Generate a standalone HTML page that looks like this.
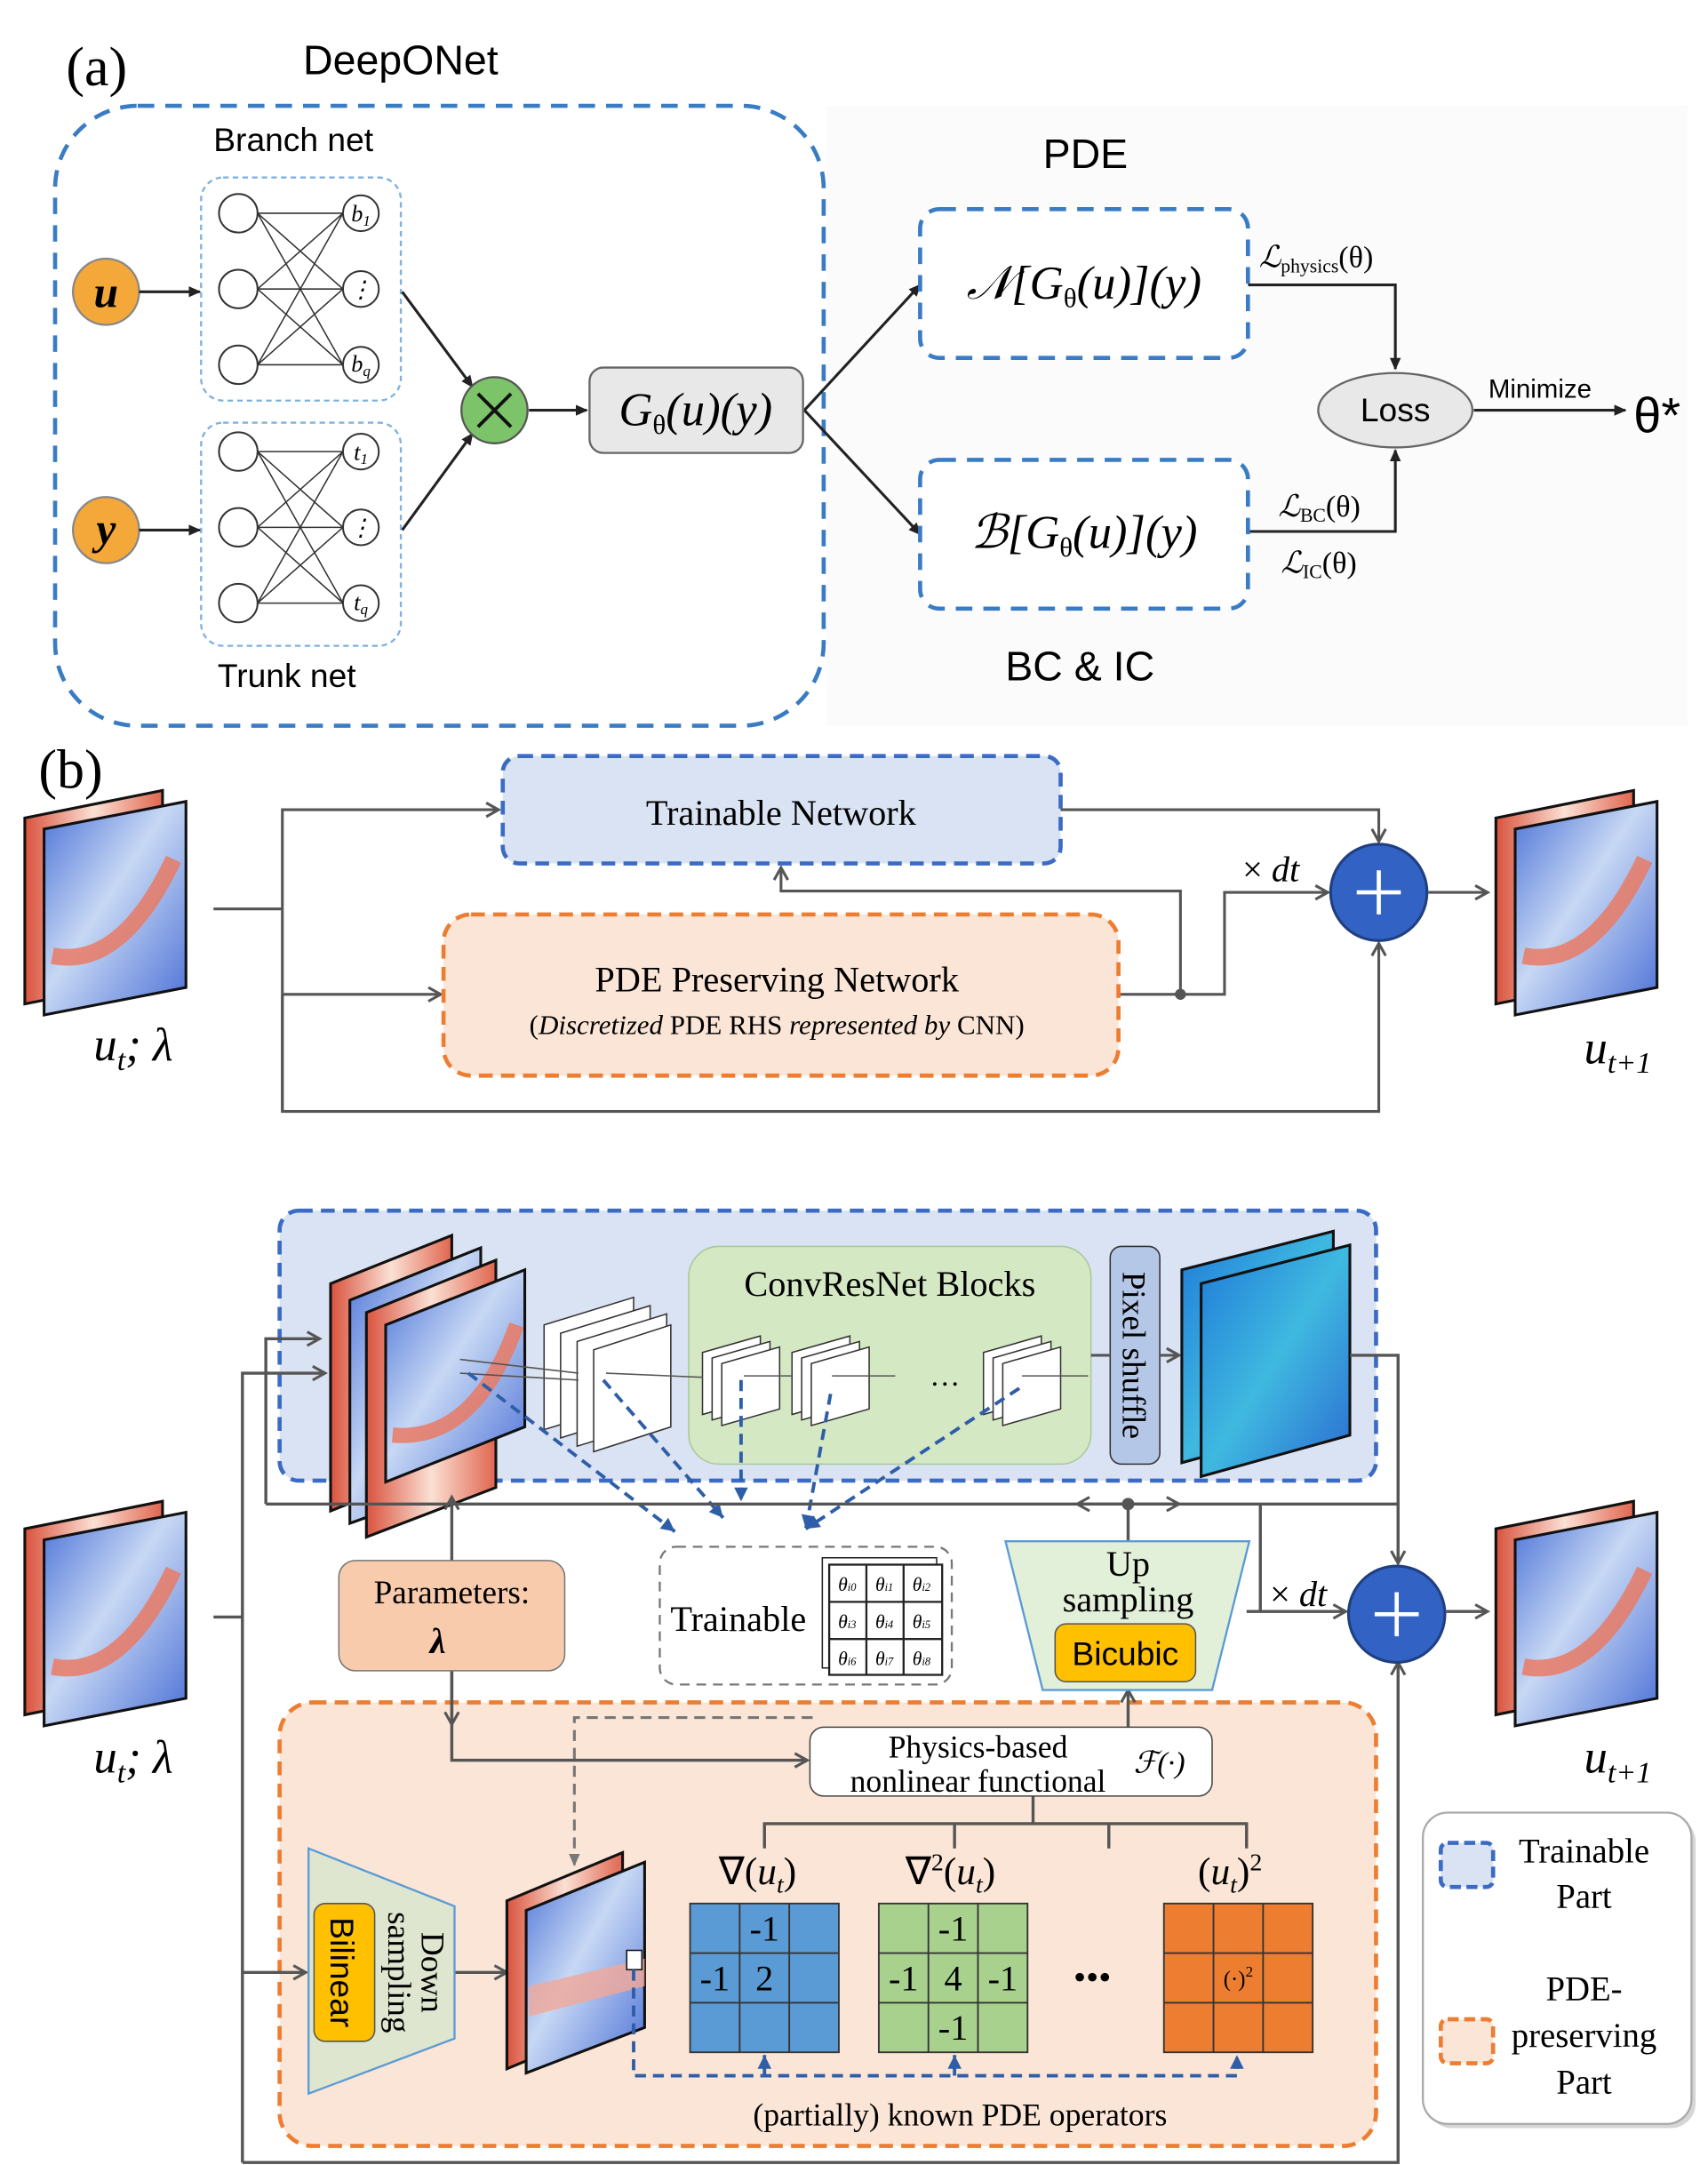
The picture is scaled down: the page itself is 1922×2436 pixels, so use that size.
<!DOCTYPE html>
<html><head><meta charset="utf-8"><style>
html,body{margin:0;padding:0;background:#fff}
svg{display:block}
.s{font-family:"Liberation Sans",sans-serif}
.r{font-family:"Liberation Serif",serif}
</style></head><body>
<svg width="1922" height="2436" viewBox="0 0 1240 1568" xmlns="http://www.w3.org/2000/svg">
<defs>
<linearGradient id="red" x1="0" y1="0" x2="1" y2="0"><stop offset="0" stop-color="#d9533e"/><stop offset=".5" stop-color="#fbe0d4"/><stop offset="1" stop-color="#e0664f"/></linearGradient>
<linearGradient id="blu" x1="0" y1="0" x2="1" y2="1"><stop offset="0" stop-color="#4b72d8"/><stop offset=".45" stop-color="#c7d8f4"/><stop offset="1" stop-color="#4a6fd6"/></linearGradient>
<linearGradient id="teal" x1="0" y1="0" x2="1" y2="1"><stop offset="0" stop-color="#1f7ad8"/><stop offset=".5" stop-color="#3fb9e0"/><stop offset="1" stop-color="#2a6ad0"/></linearGradient>
<marker id="a" markerWidth="10" markerHeight="10" refX="8" refY="5" orient="auto" markerUnits="userSpaceOnUse"><path d="M0,1 L9,5 L0,9 z" fill="#222"/></marker>
<marker id="g" markerWidth="12" markerHeight="12" refX="10" refY="6" orient="auto" markerUnits="userSpaceOnUse"><path d="M1,1 L10,6 L1,11" fill="none" stroke="#555" stroke-width="2"/></marker>
<marker id="b" markerWidth="12" markerHeight="12" refX="10" refY="6" orient="auto" markerUnits="userSpaceOnUse"><path d="M0,1 L10,6 L0,11 z" fill="#2f5ea8"/></marker>
<marker id="gd" markerWidth="10" markerHeight="10" refX="8" refY="5" orient="auto" markerUnits="userSpaceOnUse"><path d="M0,1 L9,5 L0,9 z" fill="#777"/></marker>
<g id="fld">
<polygon points="0,20 100,0 100,135 0,155" fill="url(#red)" stroke="#111" stroke-width="2"/>
<polygon points="14,28 117,8 117,143 14,163" fill="url(#blu)" stroke="#111" stroke-width="2"/>
<path d="M20,120 Q70,130 108,50" fill="none" stroke="#e97a64" stroke-width="12" opacity=".85"/>
</g>
</defs>

<!-- (a) -->
<rect x="600" y="75" width="625" height="450" fill="#fbfbfb"/>
<text x="48" y="60" class="r" font-size="40">(a)</text>
<text x="220" y="52" class="s" font-size="30">DeepONet</text>
<rect x="40" y="75" width="558" height="450" rx="60" fill="none" stroke="#3a7cc4" stroke-width="3" stroke-dasharray="12,8"/>
<text x="155" y="108" class="s" font-size="24">Branch net</text>
<text x="158" y="497" class="s" font-size="24">Trunk net</text>
<rect x="146" y="127" width="145" height="162" rx="16" fill="none" stroke="#7fb0e0" stroke-width="1.5" stroke-dasharray="4,3"/>
<rect x="146" y="305" width="145" height="162" rx="16" fill="none" stroke="#7fb0e0" stroke-width="1.5" stroke-dasharray="4,3"/>
<g stroke="#333" stroke-width="1">
<path d="M187,153 L249,153 M187,153 L249,208 M187,153 L249,263 M187,208 L249,153 M187,208 L249,208 M187,208 L249,263 M187,263 L249,153 M187,263 L249,208 M187,263 L249,263"/>
<path d="M187,326 L249,326 M187,326 L249,381 M187,326 L249,436 M187,381 L249,326 M187,381 L249,381 M187,381 L249,436 M187,436 L249,326 M187,436 L249,381 M187,436 L249,436"/>
</g>
<g fill="#fff" stroke="#333" stroke-width="1.3">
<circle cx="173" cy="153" r="14"/><circle cx="173" cy="208" r="14"/><circle cx="173" cy="263" r="14"/>
<circle cx="173" cy="326" r="14"/><circle cx="173" cy="381" r="14"/><circle cx="173" cy="436" r="14"/>
<circle cx="262" cy="153" r="13"/><circle cx="262" cy="208" r="13"/><circle cx="262" cy="263" r="13"/>
<circle cx="262" cy="326" r="13"/><circle cx="262" cy="381" r="13"/><circle cx="262" cy="436" r="13"/>
</g>
<g class="r" font-style="italic" font-size="17" text-anchor="middle">
<text x="262" y="159">b<tspan font-size="11" dy="3">1</tspan></text><text x="262" y="214">⋮</text><text x="262" y="268">b<tspan font-size="11" dy="3">q</tspan></text>
<text x="262" y="332">t<tspan font-size="11" dy="3">1</tspan></text><text x="262" y="387">⋮</text><text x="262" y="441">t<tspan font-size="11" dy="3">q</tspan></text>
</g>
<circle cx="77" cy="210" r="24" fill="#f5a83a" stroke="#888" stroke-width="1.5"/>
<text x="77" y="221" class="r" font-style="italic" font-weight="bold" font-size="32" text-anchor="middle">u</text>
<circle cx="77" cy="383" r="24" fill="#f5a83a" stroke="#888" stroke-width="1.5"/>
<text x="77" y="393" class="r" font-style="italic" font-weight="bold" font-size="32" text-anchor="middle">y</text>
<g stroke="#222" stroke-width="2" fill="none" marker-end="url(#a)">
<line x1="101" y1="210" x2="145" y2="210"/><line x1="101" y1="383" x2="145" y2="383"/>
<line x1="292" y1="210" x2="343" y2="279"/><line x1="292" y1="383" x2="343" y2="313"/>
<line x1="384" y1="296" x2="426" y2="296"/>
<line x1="584" y1="296" x2="668" y2="205"/><line x1="584" y1="296" x2="668" y2="386"/>
<polyline points="906,205 1013,205 1013,266"/><polyline points="906,384 1013,384 1013,325"/>
<line x1="1070" y1="296" x2="1180" y2="296"/>
</g>
<circle cx="359" cy="296" r="24" fill="#7cc36a" stroke="#555" stroke-width="1.5"/>
<path d="M347,284 L371,308 M371,284 L347,308" stroke="#111" stroke-width="2.5"/>
<rect x="428" y="265" width="155" height="62" rx="10" fill="#e8e8e8" stroke="#666" stroke-width="1.5"/>
<text x="505" y="307" class="r" font-style="italic" font-size="34" text-anchor="middle">G<tspan font-size="20" dy="6" font-style="normal">θ</tspan><tspan dy="-6">(u)(y)</tspan></text>
<text x="788" y="120" class="s" font-size="30" text-anchor="middle">PDE</text>
<rect x="668" y="150" width="238" height="108" rx="14" fill="#fff" stroke="#3a7cc4" stroke-width="3" stroke-dasharray="12,8"/>
<rect x="668" y="332" width="238" height="108" rx="14" fill="#fff" stroke="#3a7cc4" stroke-width="3" stroke-dasharray="12,8"/>
<text x="787" y="215" class="r" font-style="italic" font-size="34" text-anchor="middle">𝒩[G<tspan font-size="20" dy="6" font-style="normal">θ</tspan><tspan dy="-6">(u)](y)</tspan></text>
<text x="787" y="396" class="r" font-style="italic" font-size="34" text-anchor="middle">ℬ[G<tspan font-size="20" dy="6" font-style="normal">θ</tspan><tspan dy="-6">(u)](y)</tspan></text>
<text x="784" y="492" class="s" font-size="30" text-anchor="middle">BC &amp; IC</text>
<text x="914" y="192" class="r" font-size="22" font-style="italic">ℒ<tspan font-size="14" dy="4" font-style="normal">physics</tspan><tspan dy="-4" font-style="normal">(θ)</tspan></text>
<text x="928" y="373" class="r" font-size="22" font-style="italic">ℒ<tspan font-size="14" dy="4" font-style="normal">BC</tspan><tspan dy="-4" font-style="normal">(θ)</tspan></text>
<text x="930" y="414" class="r" font-size="22" font-style="italic">ℒ<tspan font-size="14" dy="4" font-style="normal">IC</tspan><tspan dy="-4" font-style="normal">(θ)</tspan></text>
<ellipse cx="1013" cy="296" rx="56" ry="27" fill="#e8e8e8" stroke="#666" stroke-width="1.5"/>
<text x="1013" y="304" class="s" font-size="24" text-anchor="middle">Loss</text>
<text x="1118" y="287" class="s" font-size="19" text-anchor="middle">Minimize</text>
<text x="1186" y="312" class="s" font-size="36">θ*</text>

<!-- (b) top -->
<text x="28" y="570" class="r" font-size="40">(b)</text>
<use href="#fld" x="18" y="572"/>
<use href="#fld" x="1086" y="572"/>
<text x="68" y="768" class="r" font-style="italic" font-size="34">u<tspan font-size="22" dy="7">t</tspan><tspan dy="-7">; λ⃗</tspan></text>
<text x="1150" y="770" class="r" font-style="italic" font-size="34">u<tspan font-size="22" dy="7">t+1</tspan></text>
<g stroke="#555" stroke-width="2" fill="none">
<polyline points="155,658 205,658"/>
<polyline points="205,805 205,586 362,586" marker-end="url(#g)"/>
<polyline points="205,720 320,720" marker-end="url(#g)"/>
<polyline points="205,720 205,805 1001,805 1001,683" marker-end="url(#g)"/>
<polyline points="770,586 1001,586 1001,609" marker-end="url(#g)"/>
<polyline points="813,720 889,720 889,646 964,646" marker-end="url(#g)"/>
<polyline points="857,720 857,645 567,645 567,628" marker-end="url(#g)"/>
<line x1="1037" y1="646" x2="1080" y2="646" marker-end="url(#g)"/>
</g>
<circle cx="857" cy="720" r="4" fill="#555"/>
<rect x="365" y="547" width="405" height="78" rx="12" fill="#dae3f3" stroke="#3b6bc4" stroke-width="3" stroke-dasharray="10,6"/>
<text x="567" y="597" class="r" font-size="26" text-anchor="middle">Trainable Network</text>
<rect x="322" y="662" width="490" height="117" rx="20" fill="#fbe5d6" stroke="#ed7d31" stroke-width="3" stroke-dasharray="10,6"/>
<text x="564" y="718" class="r" font-size="26" text-anchor="middle">PDE Preserving Network</text>
<text x="564" y="749" class="r" font-size="20" text-anchor="middle">(<tspan font-style="italic">Discretized</tspan> PDE RHS <tspan font-style="italic">represented by</tspan> CNN)</text>
<text x="902" y="638" class="r" font-size="26">× <tspan font-style="italic">dt</tspan></text>
<circle cx="1001" cy="646" r="35" fill="#3162c4" stroke="#1f3f80" stroke-width="2"/>
<path d="M985,646 H1017 M1001,630 V662" stroke="#fff" stroke-width="3"/>

<!-- bottom -->
<rect x="203" y="877" width="796" height="196" rx="14" fill="#dae3f3" stroke="#3b6bc4" stroke-width="3" stroke-dasharray="10,6"/>
<rect x="203" y="1234" width="796" height="322" rx="24" fill="#fbe5d6" stroke="#ed7d31" stroke-width="3" stroke-dasharray="10,6"/>
<rect x="500" y="903" width="292" height="158" rx="22" fill="#d5e8c4" stroke="#aac89a"/>
<text x="646" y="939" class="r" font-size="26" text-anchor="middle">ConvResNet Blocks</text>
<g stroke="#111" stroke-width="2">
<polygon points="240,930 328,895 328,1060 240,1095" fill="url(#red)"/>
<polygon points="254,942 349,904 349,1070 254,1104" fill="url(#blu)"/>
<polygon points="266,951 360,913 360,1078 266,1114" fill="url(#red)"/>
<polygon points="280,960 381,920 381,1034 280,1074" fill="url(#blu)"/>
</g>
<path d="M285,1040 Q345,1045 375,960" fill="none" stroke="#e97a64" stroke-width="11" opacity=".85"/>
<g fill="#fff" stroke="#333" stroke-width="1">
<polygon points="395,960 460,940 460,1016 395,1036"/><polygon points="407,966 472,946 472,1022 407,1042"/><polygon points="419,972 484,952 484,1028 419,1048"/><polygon points="431,978 487,960 487,1034 431,1052"/>
<polygon points="510,980 552,968 552,1013 510,1025"/><polygon points="517,984 559,972 559,1017 517,1029"/><polygon points="524,988 566,976 566,1021 524,1033"/>
<polygon points="575,980 617,968 617,1013 575,1025"/><polygon points="582,984 624,972 624,1017 582,1029"/><polygon points="589,988 631,976 631,1021 589,1033"/>
<polygon points="714,980 756,968 756,1013 714,1025"/><polygon points="721,984 763,972 763,1017 721,1029"/><polygon points="728,988 770,976 770,1021 728,1033"/>
</g>
<g stroke="#555" stroke-width="1" fill="none"><path d="M334,985 L420,995 M334,995 L420,1000 M440,995 L510,998 M540,997 L575,997 M604,997 L650,997 M742,997 L790,997"/></g>
<text x="686" y="1004" class="r" font-size="22" text-anchor="middle">…</text>
<rect x="806" y="903" width="36" height="158" rx="8" fill="#b4c7e7" stroke="#333"/>
<text transform="translate(815,982) rotate(90)" class="r" font-size="24" text-anchor="middle">Pixel shuffle</text>
<line x1="792" y1="982" x2="806" y2="982" stroke="#555" stroke-width="2"/>
<line x1="842" y1="982" x2="856" y2="982" stroke="#555" stroke-width="2" marker-end="url(#g)"/>
<polygon points="858,920 968,892 968,1030 858,1060" fill="url(#teal)" stroke="#111" stroke-width="2"/>
<polygon points="872,930 980,902 980,1040 872,1070" fill="url(#teal)" stroke="#111" stroke-width="2"/>
<g stroke="#2f5ea8" stroke-width="2.5" stroke-dasharray="8,5" fill="none" marker-end="url(#b)">
<line x1="340" y1="995" x2="490" y2="1110"/><line x1="438" y1="1000" x2="525" y2="1100"/>
<line x1="538" y1="1000" x2="538" y2="1088"/><line x1="603" y1="1010" x2="585" y2="1108"/><line x1="740" y1="1006" x2="585" y2="1108"/>
</g>
<g stroke="#555" stroke-width="2.2" fill="none">
<line x1="155" y1="1172" x2="176" y2="1172"/>
<polyline points="176,1568 176,995 236,995" marker-end="url(#g)"/>
<polyline points="193,1090 193,970 232,970" marker-end="url(#g)"/>
<polyline points="176,1430 222,1430" marker-end="url(#g)"/>
<polyline points="193,1090 1015,1090 1015,1133" marker-end="url(#g)"/>
<polyline points="980,982 1015,982 1015,1090"/>
<polyline points="905,1168 915,1168 915,1090"/>
<polyline points="915,1168 977,1168" marker-end="url(#g)"/>
<line x1="1050" y1="1168" x2="1080" y2="1168" marker-end="url(#g)"/>
<polyline points="176,1568 1015,1568 1015,1205" marker-end="url(#g)"/>
<line x1="819" y1="1117" x2="819" y2="1090"/>
<line x1="819" y1="1090" x2="782" y2="1090" marker-end="url(#g)"/><line x1="819" y1="1090" x2="856" y2="1090" marker-end="url(#g)"/>
<line x1="819" y1="1252" x2="819" y2="1225" marker-end="url(#g)"/>
<line x1="328" y1="1131" x2="328" y2="1085" marker-end="url(#g)"/>
<polyline points="328,1211 328,1276 586,1276" marker-end="url(#g)"/>
<line x1="328" y1="1211" x2="328" y2="1250" marker-end="url(#g)"/>
<line x1="330" y1="1430" x2="368" y2="1430" marker-end="url(#g)"/>
<polyline points="750,1302 750,1322"/>
<polyline points="555,1340 555,1322 905,1322 905,1340"/>
<line x1="693" y1="1322" x2="693" y2="1340"/><line x1="805" y1="1322" x2="805" y2="1340"/>
</g>
<circle cx="819" cy="1090" r="4.5" fill="#555"/>
<polyline points="590,1245 417,1245 417,1352" fill="none" stroke="#777" stroke-width="2" stroke-dasharray="8,5" marker-end="url(#gd)"/>
<rect x="479" y="1121" width="212" height="100" rx="12" fill="#fff" stroke="#777" stroke-width="1.5" stroke-dasharray="7,5"/>
<text x="536" y="1182" class="r" font-size="26" text-anchor="middle">Trainable</text>
<rect x="597" y="1129" width="83" height="80" fill="#fff" stroke="#222"/>
<rect x="602" y="1134" width="82" height="80" fill="#fff" stroke="#222" stroke-width="1.5"/>
<path d="M629,1134 V1214 M656,1134 V1214 M602,1161 H684 M602,1188 H684" stroke="#222" stroke-width="1.5"/>
<g class="r" font-style="italic" font-size="14" text-anchor="middle">
<text x="615" y="1153">θ<tspan font-size="8">i0</tspan></text><text x="642" y="1153">θ<tspan font-size="8">i1</tspan></text><text x="669" y="1153">θ<tspan font-size="8">i2</tspan></text>
<text x="615" y="1180">θ<tspan font-size="8">i3</tspan></text><text x="642" y="1180">θ<tspan font-size="8">i4</tspan></text><text x="669" y="1180">θ<tspan font-size="8">i5</tspan></text>
<text x="615" y="1207">θ<tspan font-size="8">i6</tspan></text><text x="642" y="1207">θ<tspan font-size="8">i7</tspan></text><text x="669" y="1207">θ<tspan font-size="8">i8</tspan></text>
</g>
<rect x="246" y="1131" width="164" height="80" rx="12" fill="#f8cbad" stroke="#777"/>
<text x="328" y="1162" class="r" font-size="24" text-anchor="middle">Parameters:</text>
<text x="328" y="1198" class="r" font-size="26" font-style="italic" font-weight="bold" text-anchor="middle">λ⃗</text>
<polygon points="730,1117 907,1117 880,1225 757,1225" fill="#e2efd9" stroke="#5b9bd5" stroke-width="1.5"/>
<text x="819" y="1142" class="r" font-size="26" text-anchor="middle">Up</text>
<text x="819" y="1168" class="r" font-size="26" text-anchor="middle">sampling</text>
<rect x="766" y="1177" width="102" height="42" rx="8" fill="#ffc000" stroke="#555"/>
<text x="817" y="1207" class="s" font-size="24" text-anchor="middle">Bicubic</text>
<text x="922" y="1164" class="r" font-size="26">× <tspan font-style="italic">dt</tspan></text>
<circle cx="1014" cy="1170" r="35" fill="#3162c4" stroke="#1f3f80" stroke-width="2"/>
<path d="M998,1170 H1030 M1014,1154 V1186" stroke="#fff" stroke-width="3"/>
<use href="#fld" x="18" y="1088"/>
<use href="#fld" x="1086" y="1088"/>
<text x="68" y="1285" class="r" font-style="italic" font-size="34">u<tspan font-size="22" dy="7">t</tspan><tspan dy="-7">; λ⃗</tspan></text>
<text x="1150" y="1285" class="r" font-style="italic" font-size="34">u<tspan font-size="22" dy="7">t+1</tspan></text>
<rect x="588" y="1252" width="292" height="50" rx="10" fill="#fff" stroke="#444"/>
<text x="710" y="1274" class="r" font-size="23" text-anchor="middle">Physics-based</text>
<text x="710" y="1299" class="r" font-size="23" text-anchor="middle">nonlinear functional</text>
<text x="823" y="1285" class="r" font-size="22" font-style="italic">ℱ(·)</text>
<polygon points="224,1340 330,1382 330,1478 224,1518" fill="#dfe6cf" stroke="#5b9bd5" stroke-width="1.5"/>
<rect x="228" y="1380" width="44" height="100" rx="8" fill="#ffc000" stroke="#555"/>
<text transform="translate(240,1430) rotate(90)" class="s" font-size="24" text-anchor="middle">Bilinear</text>
<text transform="translate(306,1430) rotate(90)" class="r" font-size="24" text-anchor="middle">Down</text>
<text transform="translate(282,1430) rotate(90)" class="r" font-size="24" text-anchor="middle">sampling</text>
<polygon points="368,1378 452,1343 452,1465 368,1500" fill="url(#red)" stroke="#111" stroke-width="2"/>
<polygon points="382,1385 468,1350 468,1470 382,1503" fill="url(#blu)" stroke="#111" stroke-width="2"/>
<path d="M384,1440 L468,1420 L468,1440 L384,1462 z" fill="#f2a898" opacity=".8"/>
<rect x="455" y="1414" width="11" height="14" fill="#fff" stroke="#111"/>
<polyline points="460,1428 460,1505 898,1505 898,1490" fill="none" stroke="#2f5ea8" stroke-width="2.5" stroke-dasharray="8,5" marker-end="url(#b)"/>
<g stroke="#2f5ea8" stroke-width="2.5" stroke-dasharray="8,5" fill="none" marker-end="url(#b)"><line x1="555" y1="1505" x2="555" y2="1490"/><line x1="693" y1="1505" x2="693" y2="1490"/></g>
<g class="r" font-size="28" text-anchor="middle">
<text x="550" y="1366">∇(<tspan font-style="italic">u<tspan font-size="18" dy="6">t</tspan></tspan><tspan dy="-6">)</tspan></text>
<text x="690" y="1366">∇<tspan font-size="18" dy="-10">2</tspan><tspan dy="10">(</tspan><tspan font-style="italic">u<tspan font-size="18" dy="6">t</tspan></tspan><tspan dy="-6">)</tspan></text>
<text x="893" y="1366">(<tspan font-style="italic">u<tspan font-size="18" dy="6">t</tspan></tspan><tspan dy="-6">)</tspan><tspan font-size="18" dy="-10">2</tspan></text>
</g>
<g stroke="#333" stroke-width="1.2">
<rect x="501" y="1380" width="108" height="108" fill="#5b9bd5"/>
<path d="M537,1380 V1488 M573,1380 V1488 M501,1416 H609 M501,1452 H609"/>
<rect x="638" y="1380" width="108" height="108" fill="#a9d18e"/>
<path d="M674,1380 V1488 M710,1380 V1488 M638,1416 H746 M638,1452 H746"/>
<rect x="845" y="1380" width="108" height="108" fill="#ed7d31"/>
<path d="M881,1380 V1488 M917,1380 V1488 M845,1416 H953 M845,1452 H953"/>
</g>
<g class="r" font-size="26" text-anchor="middle">
<text x="555" y="1407">-1</text><text x="519" y="1443">-1</text><text x="555" y="1443">2</text>
<text x="692" y="1407">-1</text><text x="656" y="1443">-1</text><text x="692" y="1443">4</text><text x="728" y="1443">-1</text><text x="692" y="1479">-1</text>
<text x="899" y="1440" font-size="16">(·)<tspan dy="-7" font-size="11">2</tspan></text>
<text x="793" y="1442">•••</text>
</g>
<text x="697" y="1541" class="r" font-size="23" text-anchor="middle">(partially) known PDE operators</text>
<rect x="1036" y="1317" width="195" height="226" rx="18" fill="#999" opacity=".4"/>
<rect x="1033" y="1314" width="195" height="226" rx="18" fill="#fff" stroke="#aaa" stroke-width="1.5"/>
<rect x="1046" y="1336" width="38" height="32" rx="5" fill="#dae3f3" stroke="#3b6bc4" stroke-width="3" stroke-dasharray="8,4"/>
<text x="1150" y="1350" class="r" font-size="25" text-anchor="middle">Trainable</text>
<text x="1150" y="1383" class="r" font-size="25" text-anchor="middle">Part</text>
<rect x="1046" y="1464" width="38" height="32" rx="5" fill="#fbe5d6" stroke="#ed7d31" stroke-width="3" stroke-dasharray="8,4"/>
<text x="1150" y="1450" class="r" font-size="25" text-anchor="middle">PDE-</text>
<text x="1150" y="1484" class="r" font-size="25" text-anchor="middle">preserving</text>
<text x="1150" y="1518" class="r" font-size="25" text-anchor="middle">Part</text>
</svg>
</body></html>
